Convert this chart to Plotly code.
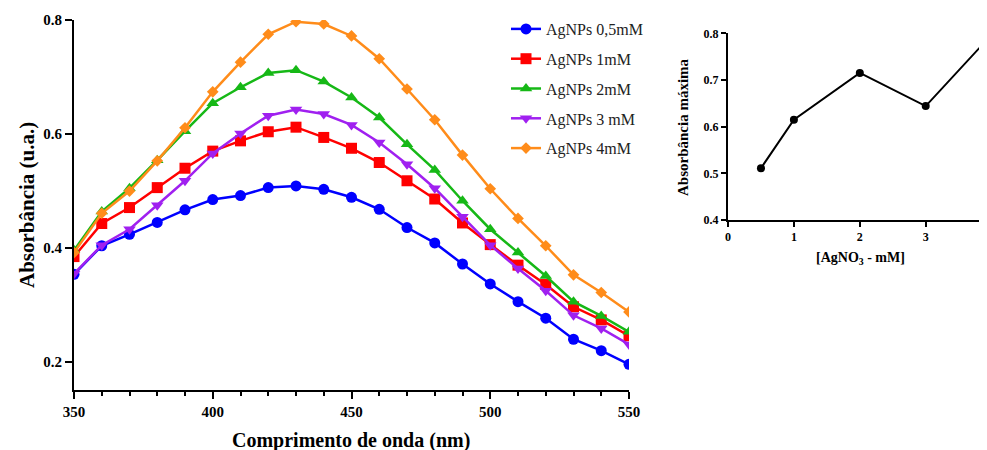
import plotly.graph_objects as go

wavelength = [350, 360, 370, 380, 390, 400, 410, 420, 430, 440, 450,
              460, 470, 480, 490, 500, 510, 520, 530, 540, 550]

ag_05 = [0.354, 0.404, 0.424, 0.445, 0.467, 0.485, 0.492, 0.506, 0.509, 0.503, 0.489,
         0.468, 0.436, 0.409, 0.372, 0.337, 0.306, 0.277, 0.240, 0.220, 0.196]
ag_1 = [0.385, 0.443, 0.471, 0.506, 0.540, 0.570, 0.588, 0.604, 0.612, 0.594, 0.575,
        0.550, 0.518, 0.486, 0.444, 0.406, 0.370, 0.336, 0.297, 0.274, 0.246]
ag_2 = [0.396, 0.464, 0.505, 0.554, 0.605, 0.654, 0.682, 0.707, 0.712, 0.692, 0.664,
        0.629, 0.582, 0.537, 0.483, 0.433, 0.392, 0.351, 0.306, 0.281, 0.253]
ag_3 = [0.355, 0.405, 0.433, 0.475, 0.518, 0.566, 0.601, 0.632, 0.643, 0.635, 0.616,
        0.585, 0.547, 0.505, 0.455, 0.405, 0.364, 0.325, 0.282, 0.259, 0.231]
ag_4 = [0.392, 0.461, 0.500, 0.553, 0.611, 0.674, 0.726, 0.775, 0.797, 0.793, 0.772,
        0.732, 0.679, 0.625, 0.563, 0.504, 0.452, 0.404, 0.353, 0.322, 0.288]

series_names = ["AgNPs 0,5mM", "AgNPs 1mM", "AgNPs 2mM", "AgNPs 3 mM", "AgNPs 4mM"]
series_values = [ag_05, ag_1, ag_2, ag_3, ag_4]
colors = ["#0000FF", "#FF0000", "#16B816", "#A020F0", "#FF8C1A"]
symbols = ["circle", "square", "triangle-up", "triangle-down", "diamond"]
sizes = [11, 11, 11, 11, 9]

conc = [0.5, 1, 2, 3, 4]
abs_max = [0.511, 0.615, 0.715, 0.644, 0.797]

# page offset (browser body margin) compensation
OFF = 8
W, H = 987 - OFF, 450 - OFF
def px_x(p):
    return (p - OFF) / W
def px_y(p):
    return 1 - (p - OFF) / H

SERIF = "Liberation Serif, Times New Roman, serif"

fig = go.Figure()
for i, (name, vals, c, s, sz) in enumerate(zip(series_names, series_values, colors, symbols, sizes)):
    fig.add_trace(go.Scatter(
        x=wavelength, y=vals, name=name, mode="lines+markers",
        legendgroup=f"g{i}",
        line=dict(color=c, width=2.5),
        marker=dict(color=c, symbol=s, size=sz),
        xaxis="x", yaxis="y",
    ))

fig.add_trace(go.Scatter(
    x=conc, y=abs_max, mode="lines+markers", showlegend=False,
    line=dict(color="black", width=2),
    marker=dict(color="black", size=8),
    xaxis="x2", yaxis="y2",
))

axis_common = dict(showgrid=False, zeroline=False, showline=True, linecolor="black",
                   linewidth=2, ticks="outside", tickcolor="black", tickwidth=2,
                   automargin=False)

fig.update_layout(
    width=W, height=H,
    margin=dict(l=0, r=0, t=0, b=0),
    paper_bgcolor="white", plot_bgcolor="white",
    font=dict(family=SERIF, color="black"),
    xaxis=dict(domain=[px_x(74), px_x(629)], range=[350, 550], dtick=50, tick0=350,
               ticklen=7, tickfont=dict(size=15, family=SERIF, weight="bold"),
               minor=dict(dtick=10, tick0=350, ticks="outside", ticklen=4,
                          tickcolor="black", tickwidth=2),
               anchor="y", **axis_common),
    yaxis=dict(domain=[px_y(390), px_y(20)], range=[0.151, 0.8], dtick=0.2, tick0=0.2,
               tickformat=".1f", ticklen=7,
               tickfont=dict(size=15, family=SERIF, weight="bold"),
               anchor="x", **axis_common),
    xaxis2=dict(domain=[px_x(728), 1.0], range=[0, 3.93], dtick=1, tick0=0,
                ticklen=5, tickfont=dict(size=12, family=SERIF, weight="bold"),
                anchor="y2", **axis_common),
    yaxis2=dict(domain=[px_y(220), px_y(33.3)], range=[0.4, 0.8], dtick=0.1, tick0=0.4,
                tickformat=".1f", ticklen=5,
                tickfont=dict(size=12, family=SERIF, weight="bold"),
                anchor="x2", **axis_common),
    legend=dict(x=px_x(506), y=px_y(12), xanchor="left", yanchor="top",
                font=dict(size=16, family=SERIF, color="#222"),
                bgcolor="rgba(0,0,0,0)", traceorder="grouped", tracegroupgap=6,
                itemwidth=30),
    annotations=[
        dict(text="<b>Absorbância (u.a.)</b>", x=px_x(27), y=px_y(205), xref="paper", yref="paper",
             textangle=-90, showarrow=False, font=dict(size=21, family=SERIF),
             xanchor="center", yanchor="middle"),
        dict(text="<b>Comprimento de onda (nm)</b>", x=px_x(351), y=px_y(440), xref="paper",
             yref="paper", showarrow=False, font=dict(size=20, family=SERIF),
             xanchor="center", yanchor="middle"),
        dict(text="<b>Absorbância máxima</b>", x=px_x(683), y=px_y(127), xref="paper", yref="paper",
             textangle=-90, showarrow=False, font=dict(size=15, family=SERIF),
             xanchor="center", yanchor="middle"),
        dict(text="<b>[AgNO<sub>3</sub> - mM]</b>", x=px_x(860), y=px_y(258), xref="paper",
             yref="paper", showarrow=False, font=dict(size=14, family=SERIF),
             xanchor="center", yanchor="middle"),
    ],
)

fig.write_html("out.html")
